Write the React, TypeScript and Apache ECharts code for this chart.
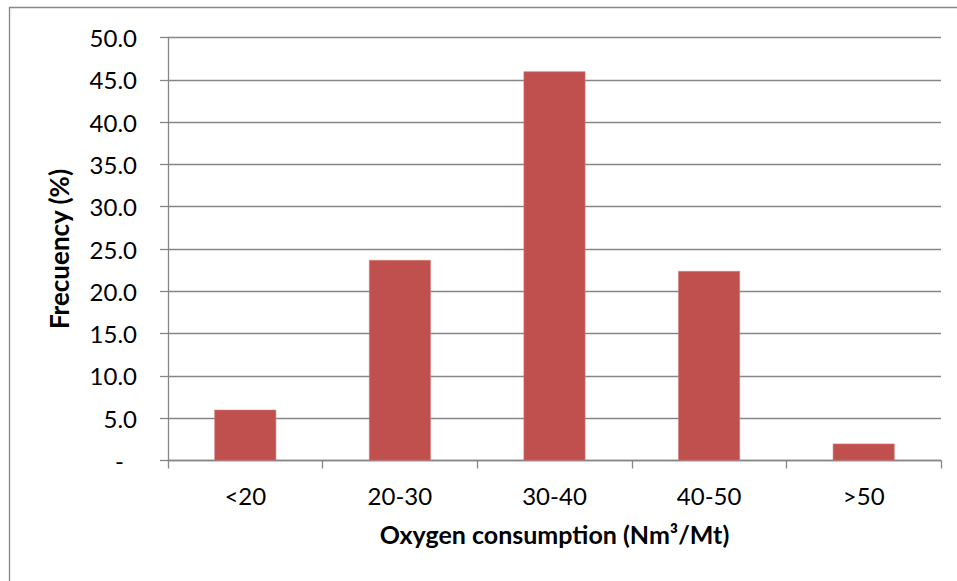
import React, { useEffect, useRef } from "react";
import * as echarts from "echarts";

const categories = ["<20", "20-30", "30-40", "40-50", ">50"];
const frequency = [6.0, 23.7, 46.0, 22.4, 2.0];
const yMin = 0;
const yMax = 50;
const yStep = 5;

const FONT = "Lato, 'Liberation Sans', sans-serif";
const GRID_GRAY = "#868686";

export default function App() {
  const ref = useRef<HTMLDivElement>(null);

  useEffect(() => {
    if (!ref.current) return;
    const chart = echarts.init(ref.current, null, { renderer: "svg" });
    chart.setOption({
      animation: false,
      backgroundColor: "#ffffff",
      textStyle: { fontFamily: FONT },
      graphic: [
        {
          type: "rect",
          shape: { x: 9.5, y: 7.5, width: 1000, height: 1000 },
          style: { fill: "none", stroke: GRID_GRAY, lineWidth: 1.3 },
          silent: true,
        },
      ],
      grid: { left: 168, top: 37.5, right: 16, bottom: 120.5 },
      xAxis: {
        type: "category",
        data: categories,
        boundaryGap: true,
        name: "Oxygen consumption (Nm³/Mt)",
        nameLocation: "middle",
        nameGap: 61,
        nameTextStyle: { fontFamily: FONT, fontSize: 25, fontWeight: "bold", color: "#000" },
        axisLine: { show: true, lineStyle: { color: GRID_GRAY, width: 1.3 } },
        axisTick: { show: true, length: 8, alignWithLabel: false, lineStyle: { color: GRID_GRAY, width: 1.3 } },
        axisLabel: { fontFamily: FONT, fontSize: 24, color: "#000", margin: 23 },
        splitLine: { show: false },
      },
      yAxis: {
        type: "value",
        min: yMin,
        max: yMax,
        interval: yStep,
        name: "Frecuency (%)",
        nameLocation: "middle",
        nameGap: 96,
        nameRotate: 90,
        nameTextStyle: { fontFamily: FONT, fontSize: 26, fontWeight: "bold", color: "#000" },
        axisLine: { show: true, lineStyle: { color: GRID_GRAY, width: 1.3 } },
        axisTick: { show: true, length: 8, inside: false, lineStyle: { color: GRID_GRAY, width: 1.3 } },
        axisLabel: {
          fontFamily: FONT,
          fontSize: 24,
          color: "#000",
          margin: 31,
          formatter: (v: number) => (v === 0 ? "{d|-}" : v.toFixed(1)),
          rich: { d: { fontFamily: FONT, fontSize: 24, color: "#000", padding: [0, 13, 0, 0] } },
        },
        splitLine: { show: true, lineStyle: { color: GRID_GRAY, width: 1.3 } },
      },
      series: [
        {
          type: "bar",
          data: frequency,
          barCategoryGap: "60%",
          itemStyle: { color: "#C0504D", borderColor: "#D27F7C", borderWidth: 0.6 },
        },
      ],
    });
    return () => chart.dispose();
  }, []);

  return (
    <div
      ref={ref}
      style={{ position: "fixed", left: 0, top: 0, width: 957, height: 581 }}
    />
  );
}
